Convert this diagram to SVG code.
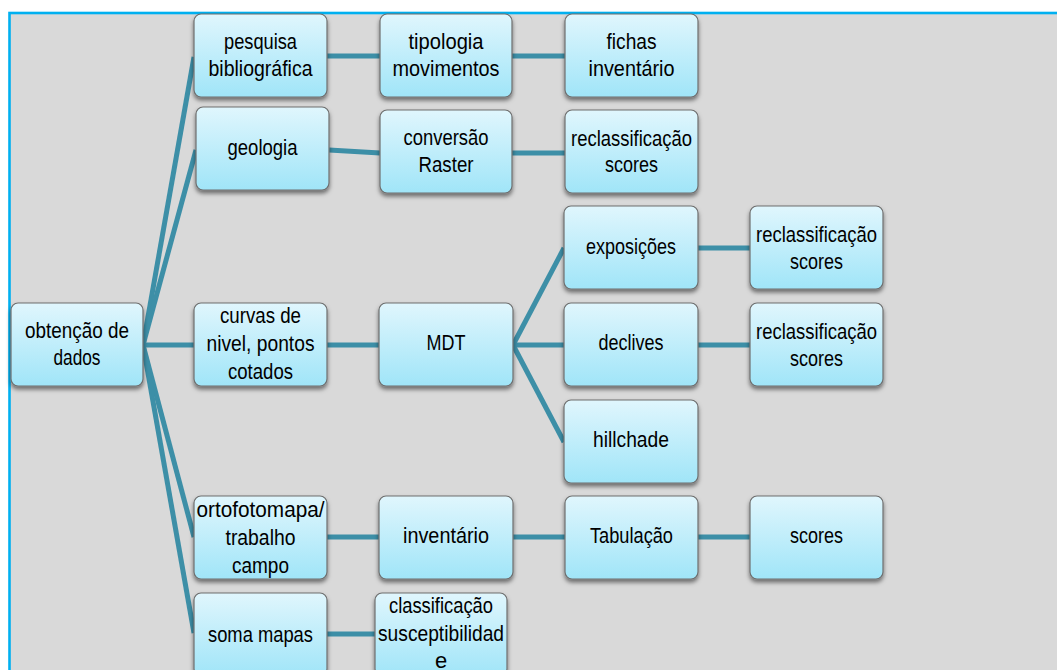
<svg xmlns="http://www.w3.org/2000/svg" width="1057" height="670" viewBox="0 0 1057 670">
<style>
.node rect{fill:url(#g);stroke:#6e6e6e;stroke-width:1.2;filter:url(#sh)}
.node text{font-family:"Liberation Sans",Arial,sans-serif;font-size:22px;fill:#000;text-anchor:middle}
.conn line{stroke:#3d8fa7;stroke-width:5;stroke-linecap:butt}
</style>
<defs>
<linearGradient id="g" x1="0" y1="0" x2="0" y2="1">
<stop offset="0" stop-color="#e0f6fd"/>
<stop offset="1" stop-color="#a0e5f8"/>
</linearGradient>
<filter id="sh" x="-10%" y="-10%" width="120%" height="130%">
<feDropShadow dx="0" dy="3" stdDeviation="2" flood-color="#000" flood-opacity="0.5"/>
</filter>
</defs>
<rect x="0" y="0" width="1057" height="670" fill="#ffffff"/>
<rect x="9.5" y="13" width="1060" height="670" fill="#d9d9d9" stroke="#00b0f0" stroke-width="2.6"/>
<g class="conn">
<line x1="143" y1="345" x2="194" y2="57"/>
<line x1="143" y1="345" x2="196" y2="150"/>
<line x1="143" y1="345" x2="194" y2="345"/>
<line x1="143" y1="345" x2="194" y2="537"/>
<line x1="143" y1="345" x2="194" y2="633"/>
<line x1="327" y1="56" x2="380" y2="56"/>
<line x1="512" y1="56" x2="565" y2="56"/>
<line x1="329" y1="150" x2="380" y2="153"/>
<line x1="512" y1="153" x2="565" y2="153"/>
<line x1="327" y1="345" x2="379" y2="345"/>
<line x1="513" y1="345" x2="564" y2="248"/>
<line x1="513" y1="345" x2="564" y2="345"/>
<line x1="513" y1="345" x2="564" y2="442"/>
<line x1="698" y1="248" x2="750" y2="248"/>
<line x1="698" y1="345" x2="750" y2="345"/>
<line x1="327" y1="537" x2="379" y2="537"/>
<line x1="513" y1="537" x2="565" y2="537"/>
<line x1="698" y1="537" x2="750" y2="537"/>
<line x1="327" y1="634" x2="375" y2="634"/>
</g>
<g id="n-obtencao" class="node"><rect x="11" y="303" width="132" height="83" rx="7"/>
<text x="77" y="338" textLength="104" lengthAdjust="spacingAndGlyphs">obtenção de</text>
<text x="77" y="365" textLength="47" lengthAdjust="spacingAndGlyphs">dados</text></g>
<g id="n-pesquisa" class="node"><rect x="194" y="14" width="133" height="83" rx="7"/>
<text x="260.5" y="49" textLength="73" lengthAdjust="spacingAndGlyphs">pesquisa</text>
<text x="260.5" y="76" textLength="104" lengthAdjust="spacingAndGlyphs">bibliográfica</text></g>
<g id="n-geologia" class="node"><rect x="196" y="107" width="133" height="83" rx="7"/>
<text x="262.5" y="155" textLength="70" lengthAdjust="spacingAndGlyphs">geologia</text></g>
<g id="n-curvas" class="node"><rect x="194" y="303" width="133" height="83" rx="7"/>
<text x="260.5" y="323" textLength="81" lengthAdjust="spacingAndGlyphs">curvas de</text>
<text x="260.5" y="351" textLength="108" lengthAdjust="spacingAndGlyphs">nivel, pontos</text>
<text x="260.5" y="379" textLength="65" lengthAdjust="spacingAndGlyphs">cotados</text></g>
<g id="n-ortofoto" class="node"><rect x="194" y="496" width="133" height="83" rx="7"/>
<text x="260.5" y="517" textLength="128" lengthAdjust="spacingAndGlyphs">ortofotomapa/</text>
<text x="260.5" y="545" textLength="70" lengthAdjust="spacingAndGlyphs">trabalho</text>
<text x="260.5" y="573" textLength="57" lengthAdjust="spacingAndGlyphs">campo</text></g>
<g id="n-soma" class="node"><rect x="194" y="593" width="133" height="83" rx="7"/>
<text x="260.5" y="642" textLength="105" lengthAdjust="spacingAndGlyphs">soma mapas</text></g>
<g id="n-tipologia" class="node"><rect x="380" y="14" width="132" height="83" rx="7"/>
<text x="446" y="49" textLength="75" lengthAdjust="spacingAndGlyphs">tipologia</text>
<text x="446" y="76" textLength="107" lengthAdjust="spacingAndGlyphs">movimentos</text></g>
<g id="n-conversao" class="node"><rect x="380" y="110" width="132" height="83" rx="7"/>
<text x="446" y="145" textLength="85" lengthAdjust="spacingAndGlyphs">conversão</text>
<text x="446" y="172" textLength="55" lengthAdjust="spacingAndGlyphs">Raster</text></g>
<g id="n-mdt" class="node"><rect x="379" y="303" width="134" height="83" rx="7"/>
<text x="446" y="350" textLength="39" lengthAdjust="spacingAndGlyphs">MDT</text></g>
<g id="n-inventario" class="node"><rect x="379" y="496" width="134" height="83" rx="7"/>
<text x="446" y="543" textLength="86" lengthAdjust="spacingAndGlyphs">inventário</text></g>
<g id="n-classificacao" class="node"><rect x="375" y="593" width="132" height="83" rx="7"/>
<text x="441" y="613" textLength="104" lengthAdjust="spacingAndGlyphs">classificação</text>
<text x="441" y="641" textLength="126" lengthAdjust="spacingAndGlyphs">susceptibilidad</text>
<text x="441" y="668">e</text></g>
<g id="n-fichas" class="node"><rect x="565" y="14" width="133" height="83" rx="7"/>
<text x="631.5" y="49" textLength="50" lengthAdjust="spacingAndGlyphs">fichas</text>
<text x="631.5" y="76" textLength="86" lengthAdjust="spacingAndGlyphs">inventário</text></g>
<g id="n-reclass1" class="node"><rect x="565" y="110" width="133" height="83" rx="7"/>
<text x="631.5" y="146" textLength="121" lengthAdjust="spacingAndGlyphs">reclassificação</text>
<text x="631.5" y="172" textLength="53" lengthAdjust="spacingAndGlyphs">scores</text></g>
<g id="n-exposicoes" class="node"><rect x="564" y="206" width="134" height="83" rx="7"/>
<text x="631" y="254" textLength="90" lengthAdjust="spacingAndGlyphs">exposições</text></g>
<g id="n-declives" class="node"><rect x="564" y="303" width="134" height="83" rx="7"/>
<text x="631" y="350" textLength="65" lengthAdjust="spacingAndGlyphs">declives</text></g>
<g id="n-hillchade" class="node"><rect x="564" y="400" width="134" height="83" rx="7"/>
<text x="631" y="447" textLength="76" lengthAdjust="spacingAndGlyphs">hillchade</text></g>
<g id="n-tabulacao" class="node"><rect x="565" y="496" width="133" height="83" rx="7"/>
<text x="631.5" y="543" textLength="83" lengthAdjust="spacingAndGlyphs">Tabulação</text></g>
<g id="n-reclass2" class="node"><rect x="750" y="206" width="133" height="83" rx="7"/>
<text x="816.5" y="242" textLength="121" lengthAdjust="spacingAndGlyphs">reclassificação</text>
<text x="816.5" y="269" textLength="53" lengthAdjust="spacingAndGlyphs">scores</text></g>
<g id="n-reclass3" class="node"><rect x="750" y="303" width="133" height="83" rx="7"/>
<text x="816.5" y="339" textLength="121" lengthAdjust="spacingAndGlyphs">reclassificação</text>
<text x="816.5" y="366" textLength="53" lengthAdjust="spacingAndGlyphs">scores</text></g>
<g id="n-scores" class="node"><rect x="750" y="496" width="133" height="83" rx="7"/>
<text x="816.5" y="543" textLength="53" lengthAdjust="spacingAndGlyphs">scores</text></g>
</svg>
